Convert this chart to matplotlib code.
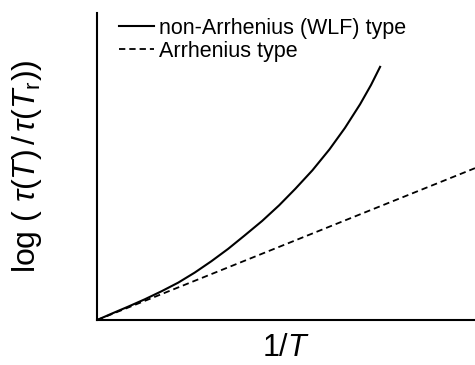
import numpy as np
import matplotlib.pyplot as plt

plt.rcParams['font.family'] = ['Liberation Sans', 'DejaVu Sans']
plt.rcParams['mathtext.fontset'] = 'custom'
plt.rcParams['mathtext.rm'] = 'Liberation Sans'
plt.rcParams['mathtext.it'] = 'Liberation Sans:italic'

# curva WLF (no Arrhenius)
x_wlf = [0, 0.039, 0.083, 0.127, 0.171, 0.215, 0.259, 0.303, 0.347, 0.390,
         0.437, 0.482, 0.525, 0.570, 0.615, 0.656, 0.696, 0.725, 0.749]
y_wlf = [0, 0.021, 0.044, 0.068, 0.094, 0.122, 0.155, 0.192, 0.232, 0.275,
         0.323, 0.374, 0.428, 0.488, 0.556, 0.626, 0.703, 0.766, 0.825]

# recta Arrhenius
x_arr = [0, 1.0]
y_arr = [0, 0.495]

fig = plt.figure(figsize=(4.75, 3.65), dpi=100)
ax = fig.add_axes([0.204, 0.123, 0.796, 0.841])

ax.plot(x_wlf, y_wlf, color='black', lw=1.5, label='non-Arrhenius (WLF) type')
ax.plot(x_arr, y_arr, color='black', lw=1.3, linestyle=(0, (3.5, 2.2)), label='Arrhenius type')

ax.set_xlim(0, 1)
ax.set_ylim(0, 1)
ax.set_xticks([])
ax.set_yticks([])
ax.spines['top'].set_visible(False)
ax.spines['right'].set_visible(False)
ax.spines['left'].set_linewidth(1.5)
ax.spines['bottom'].set_linewidth(1.5)

ax.set_xlabel(r'1/$T$', fontsize=22, labelpad=9)
ax.set_ylabel(r'log ( $\tau(T)\,/\,\tau(T_{\rm r})$)', fontsize=23, labelpad=38)

ax.legend(loc='upper left', bbox_to_anchor=(0.058, 0.985), frameon=False, fontsize=15.5,
          handlelength=1.65, handletextpad=0.2, labelspacing=0.1, borderpad=0,
          borderaxespad=0)

fig.savefig('out.png', dpi=100)
